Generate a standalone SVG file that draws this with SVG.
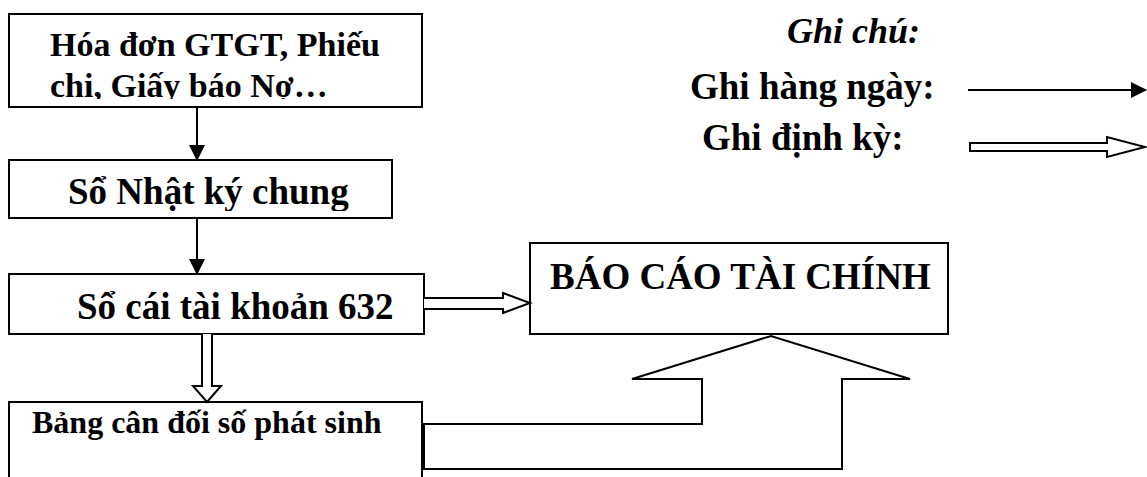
<svg xmlns="http://www.w3.org/2000/svg" width="1147" height="477" viewBox="0 0 1147 477">
  <style>
    .box { fill: #fff; stroke: #000; stroke-width: 2; }
    .t { font-family: "Liberation Serif", "Times New Roman", serif; font-weight: bold; fill: #000; }
    .line { stroke: #000; stroke-width: 2; fill: none; }
    .hollow { fill: #fff; stroke: #000; stroke-width: 2; stroke-linejoin: miter; }
  </style>
  <defs>
    <marker id="solid" viewBox="0 0 16 16" refX="15" refY="8" markerWidth="16" markerHeight="16" markerUnits="userSpaceOnUse" orient="auto">
      <path d="M0,0 L16,8 L0,16 Z" fill="#000"/>
    </marker>
    <!-- text areas end above the box bottom, cutting off descenders -->
    <clipPath id="clip1"><rect x="10" y="15" width="411" height="84"/></clipPath>
    <clipPath id="clip2"><rect x="10" y="161" width="381" height="50"/></clipPath>
  </defs>

  <!-- source vouchers -->
  <g id="node-chungtu">
    <rect class="box" x="9" y="14" width="413" height="93"/>
    <g clip-path="url(#clip1)">
      <text class="t" x="50" y="56" font-size="34">Hóa đơn GTGT, Phiếu</text>
      <text class="t" x="50" y="97" font-size="34">chi, Giấy báo Nợ…</text>
    </g>
  </g>

  <!-- general journal -->
  <g id="node-nhatky">
    <rect class="box" x="9" y="160" width="383" height="58"/>
    <g clip-path="url(#clip2)">
      <text class="t" x="68" y="204" font-size="37">Sổ Nhật ký chung</text>
    </g>
  </g>

  <!-- ledger 632 -->
  <g id="node-socai">
    <rect class="box" x="9" y="274" width="415" height="60"/>
    <text class="t" x="77" y="319" font-size="37">Sổ cái tài khoản 632</text>
  </g>

  <!-- trial balance -->
  <g id="node-bangcandoi">
    <rect class="box" x="9" y="402" width="413" height="80"/>
    <text class="t" x="32" y="433" font-size="32">Bảng cân đối số phát sinh</text>
  </g>

  <!-- financial statements -->
  <g id="node-baocao">
    <rect class="box" x="530" y="243" width="418" height="91"/>
    <text class="t" x="550" y="289" font-size="37">BÁO CÁO TÀI CHÍNH</text>
  </g>

  <!-- legend -->
  <g id="legend">
    <text class="t" x="787" y="43" font-size="36" font-style="italic">Ghi chú:</text>
    <text class="t" x="690" y="99" font-size="37">Ghi hàng ngày:</text>
    <text class="t" x="702" y="150" font-size="37">Ghi định kỳ:</text>
    <line class="line" x1="968" y1="90" x2="1146" y2="90" marker-end="url(#solid)"/>
    <path class="hollow" d="M970,143 L1107,143 L1107,137 L1145,147 L1107,157 L1107,151 L970,151 Z"/>
  </g>

  <!-- connectors -->
  <g id="connectors">
    <line class="line" x1="197" y1="107" x2="197" y2="160" marker-end="url(#solid)"/>
    <line class="line" x1="197" y1="218" x2="197" y2="274" marker-end="url(#solid)"/>
    <!-- periodic: ledger to trial balance -->
    <path class="hollow" d="M202,334 L202,386 L193,386 L207,402 L221,386 L212,386 L212,334"/>
    <!-- periodic: ledger to statements -->
    <path class="hollow" d="M424,298 L503,298 L503,293 L530,303 L503,313 L503,309 L424,309"/>
    <!-- periodic: trial balance to statements -->
    <path class="hollow" d="M424,424 L702,424 L702,379 L632,379 L771,336 L910,379 L842,379 L842,469 L424,469 Z"/>
  </g>
</svg>
